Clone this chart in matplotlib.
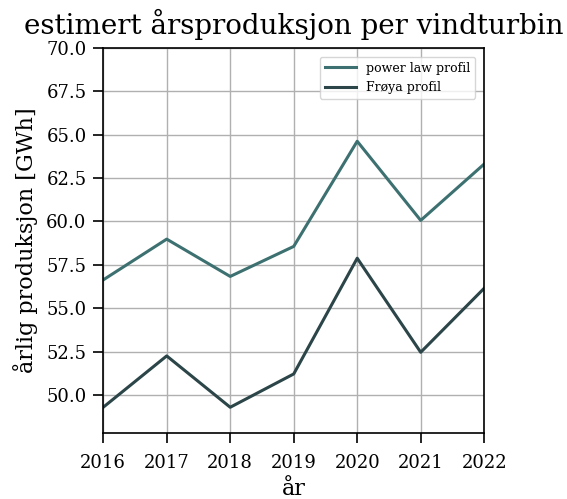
import matplotlib
matplotlib.use("Agg")
import matplotlib.pyplot as plt

years = [2016, 2017, 2018, 2019, 2020, 2021, 2022]
power_law = [56.63, 58.98, 56.83, 58.56, 64.62, 60.06, 63.31]
froya = [49.29, 52.25, 49.29, 51.21, 57.88, 52.46, 56.15]

plt.rcParams['font.family'] = ['DejaVu Serif']

fig, ax = plt.subplots(figsize=(5.67, 4.99), dpi=100)
ax.plot(years, power_law, color='#3d7070', linewidth=2.2, label='power law profil')
ax.plot(years, froya, color='#2b4548', linewidth=2.2, label='Frøya profil')

ax.set_xlim(2016, 2022)
ax.set_ylim(47.8, 70)
ax.set_yticks([50, 52.5, 55, 57.5, 60, 62.5, 65, 67.5, 70])
ax.set_xticks(years)
ax.tick_params(labelsize=13, length=7, width=1.2, pad=5)
ax.tick_params(axis='x', pad=8)
ax.grid(True, color='#b0b0b0', linewidth=1)
for s in ax.spines.values():
    s.set_linewidth(1.2)

ax.set_title('estimert årsproduksjon per vindturbin', fontsize=20, pad=10)
ax.set_xlabel('år', fontsize=16, labelpad=4)
ax.set_ylabel('årlig produksjon [GWh]', fontsize=16, labelpad=6)
ax.legend(loc='upper right', fontsize=9, borderaxespad=0.7, handlelength=2.5)

fig.subplots_adjust(left=0.182, right=0.854, top=0.904, bottom=0.132)
fig.savefig('out.png', dpi=100)
